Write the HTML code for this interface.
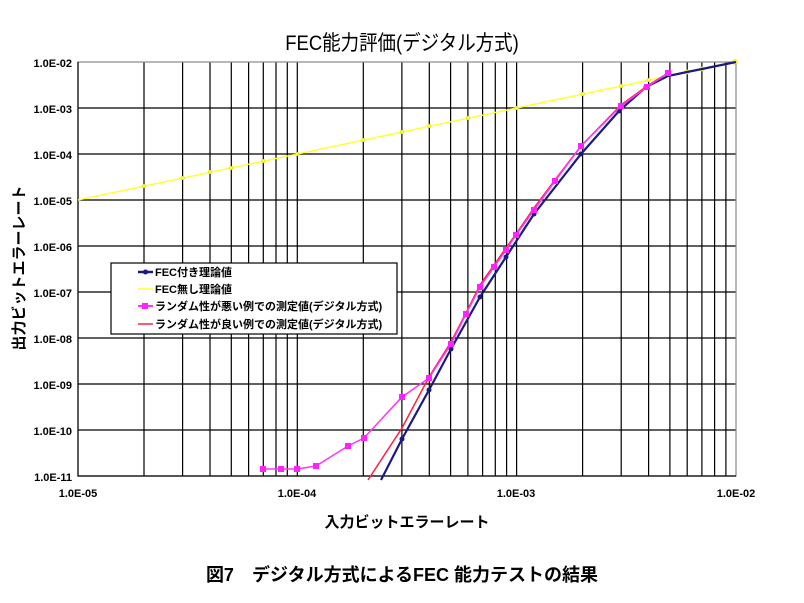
<!DOCTYPE html>
<html><head><meta charset="utf-8"><style>
html,body{margin:0;padding:0;background:#fff;}
svg{display:block;font-family:"Liberation Sans","Noto Sans CJK JP",sans-serif;}
</style></head><body>
<svg width="804" height="603" viewBox="0 0 804 603" xmlns="http://www.w3.org/2000/svg">
<text x="402" y="50" font-size="21" text-anchor="middle" fill="#000" transform="translate(402,0) scale(0.88,1) translate(-402,0)">FEC能力評価(デジタル方式)</text>
<g stroke="#000" stroke-width="1.2">
<path d="M144 62V476M182.6 62V476M210 62V476M231.3 62V476M248.6 62V476M263.3 62V476M276 62V476M287.3 62V476M297.3 62V476M363.3 62V476M401.9 62V476M429.3 62V476M450.6 62V476M467.9 62V476M482.6 62V476M495.3 62V476M506.6 62V476M516.6 62V476M582.6 62V476M621.2 62V476M648.6 62V476M669.9 62V476M687.2 62V476M701.9 62V476M714.6 62V476M725.9 62V476"/>
<path d="M78 108H736M78 154H736M78 200H736M78 246H736M78 292H736M78 338H736M78 384H736M78 430H736"/>
</g>
<rect x="78" y="62" width="658" height="414" fill="none" stroke="#888" stroke-width="1.2"/>
<path d="M78 62V476H736" stroke="#000" stroke-width="1.2" fill="none"/>
<polyline points="78,200 736,62" stroke="#ffff33" stroke-width="1.5" fill="none"/>
<g fill="#ffff33" stroke="#cccc00" stroke-width="0.5">
<circle cx="144" cy="186" r="1.8"/><circle cx="182.6" cy="178" r="1.8"/><circle cx="210" cy="172" r="1.8"/><circle cx="231.3" cy="168" r="1.8"/><circle cx="263.3" cy="161" r="1.8"/><circle cx="297.3" cy="154" r="1.8"/><circle cx="363.3" cy="140" r="1.8"/><circle cx="401.9" cy="132" r="1.8"/><circle cx="429.3" cy="126" r="1.8"/><circle cx="467.9" cy="118" r="1.8"/><circle cx="516.6" cy="108" r="1.8"/><circle cx="582.6" cy="94" r="1.8"/><circle cx="621.2" cy="86" r="1.8"/><circle cx="648.6" cy="80" r="1.8"/><circle cx="687.2" cy="72" r="2.2"/><circle cx="701.9" cy="69" r="2.2"/><circle cx="735" cy="62" r="2.5"/>
</g>
<polyline points="381,480 402,439 429,390 451,349 480,297 506,257 534,214 581,154 619,111 646,87 668,76 687,72 702,69 736,62" stroke="#1a1a80" stroke-width="2.2" fill="none"/>
<g fill="#1a1a80"><circle cx="402" cy="439" r="2.5"/><circle cx="429" cy="390" r="2.5"/><circle cx="451" cy="349" r="2.5"/><circle cx="480" cy="297" r="2.5"/><circle cx="506" cy="257" r="2.5"/><circle cx="534" cy="214" r="2.5"/><circle cx="581" cy="154" r="2.5"/><circle cx="619" cy="111" r="2.5"/><circle cx="646" cy="87" r="2.5"/></g>
<polyline points="368,480 402,428 429,377 451,342 466,313 480,285 494,265 506,248 516,234 534,208 555,180 581,146 621,105 647,86 668,73" stroke="#ff2040" stroke-width="1.5" fill="none"/>
<polyline points="263,469 281,469 297,469 316,466 348,446 364,438 402,397 429,378 451,344 466,314 480,287 494,267 506,250 516,235 534,210 555,181 581,146 621,106 647,87 668,73" stroke="#ff33ff" stroke-width="1.5" fill="none"/>
<g fill="#ff22ff"><rect x="260" y="466" width="6" height="6"/><rect x="278" y="466" width="6" height="6"/><rect x="294" y="466" width="6" height="6"/><rect x="313" y="463" width="6" height="6"/><rect x="345" y="443" width="6" height="6"/><rect x="361" y="435" width="6" height="6"/><rect x="399" y="394" width="6" height="6"/><rect x="426" y="375" width="6" height="6"/><rect x="448" y="341" width="6" height="6"/><rect x="463" y="311" width="6" height="6"/><rect x="477" y="284" width="6" height="6"/><rect x="491" y="264" width="6" height="6"/><rect x="503" y="247" width="6" height="6"/><rect x="513" y="232" width="6" height="6"/><rect x="531" y="207" width="6" height="6"/><rect x="552" y="178" width="6" height="6"/><rect x="578" y="143" width="6" height="6"/><rect x="618" y="103" width="6" height="6"/><rect x="644" y="84" width="6" height="6"/><rect x="665" y="70" width="6" height="6"/></g>
<rect x="111" y="263" width="286" height="71" fill="#fff" stroke="#000" stroke-width="1.2"/>
<g font-size="11" fill="#000" font-weight="bold">
<line x1="138" y1="272" x2="153" y2="272" stroke="#1a1a80" stroke-width="2.5"/><circle cx="145.5" cy="272" r="2.5" fill="#1a1a80"/>
<text x="155" y="276">FEC付き理論値</text>
<line x1="138" y1="289" x2="153" y2="289" stroke="#ffff33" stroke-width="1.5"/>
<text x="155" y="293">FEC無し理論値</text>
<line x1="138" y1="306" x2="153" y2="306" stroke="#ff33ff" stroke-width="2"/><rect x="142" y="303" width="6" height="6" fill="#ff22ff"/>
<text x="155" y="310">ランダム性が悪い例での測定値(デジタル方式)</text>
<line x1="138" y1="324" x2="153" y2="324" stroke="#ff2040" stroke-width="1.5"/>
<text x="155" y="328">ランダム性が良い例での測定値(デジタル方式)</text>
</g>
<g font-size="11" text-anchor="end" fill="#000" font-weight="bold">
<text x="72" y="67">1.0E-02</text><text x="72" y="113">1.0E-03</text><text x="72" y="159">1.0E-04</text><text x="72" y="205">1.0E-05</text><text x="72" y="251">1.0E-06</text><text x="72" y="297">1.0E-07</text><text x="72" y="343">1.0E-08</text><text x="72" y="389">1.0E-09</text><text x="72" y="435">1.0E-10</text><text x="72" y="481">1.0E-11</text>
</g>
<g font-size="11" text-anchor="middle" fill="#000" font-weight="bold">
<text x="78" y="497">1.0E-05</text><text x="297" y="497">1.0E-04</text><text x="516" y="497">1.0E-03</text><text x="736" y="497">1.0E-02</text>
</g>
<text x="407" y="527" font-size="15" text-anchor="middle" font-weight="bold">入力ビットエラーレート</text>
<text transform="translate(24,268) rotate(-90)" font-size="15" text-anchor="middle" font-weight="bold">出力ビットエラーレート</text>
<text x="402" y="581" font-size="18" text-anchor="middle" font-weight="bold">図7　デジタル方式によるFEC 能力テストの結果</text>
</svg>
</body></html>
